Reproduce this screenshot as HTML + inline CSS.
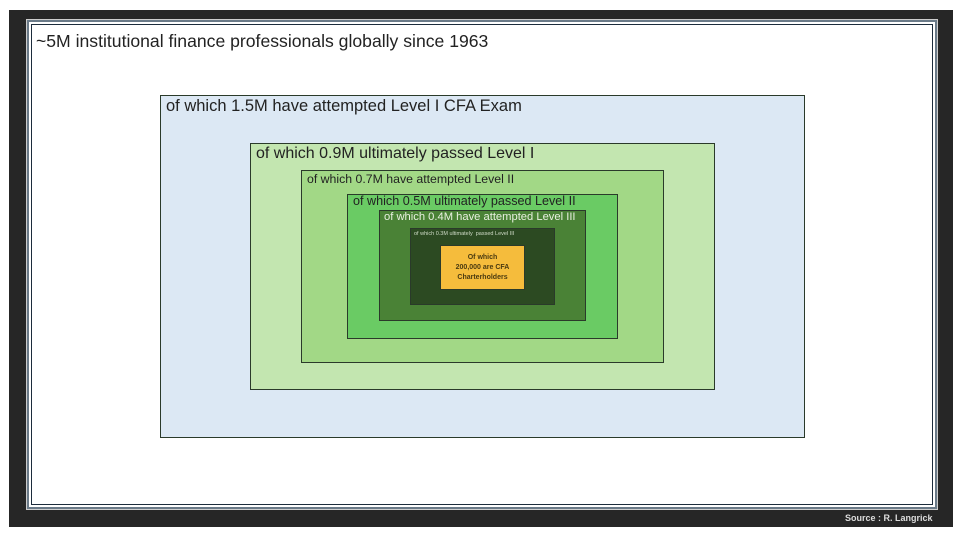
<!DOCTYPE html>
<html><head><style>
body{margin:0;width:960px;height:540px;background:#fff;position:relative;overflow:hidden;font-family:"Liberation Sans",sans-serif}
div{position:absolute;box-sizing:border-box}
.b{border:1.5px solid #2a3a2a}
.t{white-space:nowrap}
</style></head><body>
<div style="left:9px;top:10px;width:944px;height:517px;background:#262626"></div>
<div style="left:27px;top:20px;width:910px;height:489px;background:#fff;border:2px solid #6a7a88;outline:1px solid #ccc"></div>
<div style="left:31px;top:24px;width:902px;height:481px;border:1.5px solid #1c2c3c"></div>
<div class="t" style="left:36px;top:31px;font-size:17.6px;color:#222">~5M institutional finance professionals globally since 1963</div>
<div class="b" style="left:160px;top:95px;width:645px;height:343px;background:#dce8f4"></div>
<div class="t" style="left:166px;top:97px;font-size:16.5px;color:#222">of which 1.5M have attempted Level I CFA Exam</div>
<div class="b" style="left:250px;top:143px;width:465px;height:247px;background:#c3e6b0"></div>
<div class="t" style="left:256px;top:145px;font-size:16px;color:#222">of which 0.9M ultimately passed Level I</div>
<div class="b" style="left:301px;top:170px;width:363px;height:193px;background:#a2d886"></div>
<div class="t" style="left:307px;top:172px;font-size:12.3px;color:#222">of which 0.7M have attempted Level II</div>
<div class="b" style="left:347px;top:194px;width:271px;height:145px;background:#6acb64"></div>
<div class="t" style="left:353px;top:194px;font-size:12.6px;color:#222">of which 0.5M ultimately passed Level II</div>
<div class="b" style="left:379px;top:210px;width:207px;height:111px;background:#4a8236"></div>
<div class="t" style="left:384px;top:211px;font-size:11.2px;color:#e8f0e0">of which 0.4M have attempted Level III</div>
<div class="b" style="left:410px;top:228px;width:145px;height:77px;background:#2c4a22"></div>
<div class="t" style="left:414px;top:231px;font-size:5.5px;color:#d0dcc8">of which 0.3M ultimately &nbsp;passed Level III</div>
<div class="b" style="left:440px;top:245px;width:85px;height:45px;background:#f5bc3c;text-align:center;font-size:7px;font-weight:bold;color:#4a3a10;line-height:10px;padding-top:7px">Of which<br>200,000 are CFA<br>Charterholders</div>
<div class="t" style="left:845px;top:513px;font-size:9px;font-weight:bold;color:#ddd">Source : R. Langrick</div>
</body></html>
